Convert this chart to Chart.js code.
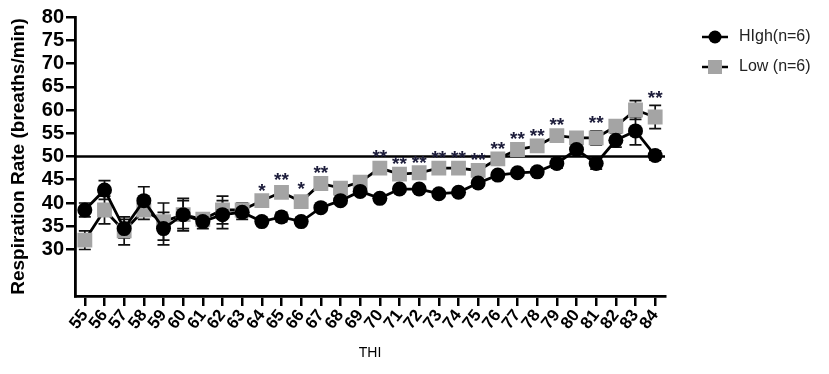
<!DOCTYPE html>
<html><head><meta charset="utf-8">
<script src="https://cdn.jsdelivr.net/npm/chart.js@4/dist/chart.umd.min.js"></script>
<style>html,body{margin:0;padding:0;background:#fff}</style>
</head><body>
<canvas id="c" width="829" height="374"></canvas>
<script>
const thi = ['55','56','57','58','59','60','61','62','63','64','65','66','67','68','69','70','71','72','73','74','75','76','77','78','79','80','81','82','83','84'];
const highMean = [38.5,42.8,34.5,40.5,34.5,37.5,36.0,37.5,38.0,36.0,37.0,36.0,39.0,40.5,42.5,41.0,43.0,43.0,42.0,42.3,44.3,46.0,46.5,46.7,48.5,51.5,48.5,53.5,55.5,50.2];
const highErr  = [1.5,2.0,2.0,3.0,3.5,3.0,1.5,3.0,1.5,0.5,1.0,0.8,0.5,0.5,0.5,0.7,0.5,0.5,0.5,0.5,0.5,0.5,0.5,0.5,1.0,1.0,1.2,1.5,3.0,1.0];
const lowMean  = [32.0,38.5,34.0,38.5,36.0,37.5,36.5,38.5,38.5,40.5,42.3,40.3,44.2,43.2,44.5,47.5,46.2,46.5,47.5,47.5,47.0,49.5,51.5,52.3,54.5,54.0,54.0,56.5,60.0,58.5];
const lowErr   = [2.0,3.0,3.0,2.0,4.0,3.5,1.0,3.0,1.5,0.5,1.0,1.0,0.5,0.5,0.5,0.7,0.5,0.5,0.5,0.5,0.5,0.5,0.5,0.5,0.7,1.0,1.5,1.0,2.0,2.5];
const stars    = ['','','','','','','','','','*','**','*','**','','','**','**','**','**','**','**','**','**','**','**','','**','','','**'];
const yTicks = [30,35,40,45,50,55,60,65,70,75,80];
const refLine = 50;
const seriesNames = ['HIgh(n=6)','Low (n=6)'];
const errs = [highErr, lowErr];

const FONT = '"Liberation Sans", Arial, sans-serif';

const extras = {
  id: 'extras',
  beforeDatasetsDraw(chart) {
    const {ctx, chartArea, scales:{x, y}} = chart;
    ctx.save();
    ctx.strokeStyle = '#000'; ctx.lineWidth = 2.5;
    const yy = y.getPixelForValue(refLine);
    ctx.beginPath(); ctx.moveTo(chartArea.left, yy); ctx.lineTo(chartArea.right, yy); ctx.stroke();
    chart.data.datasets.forEach((ds, di) => {
      ctx.strokeStyle = '#111'; ctx.lineWidth = 1.7;
      ds.data.forEach((v, i) => {
        const e = errs[di][i];
        const px = x.getPixelForValue(i);
        const t = y.getPixelForValue(v + e), b = y.getPixelForValue(v - e);
        ctx.beginPath();
        ctx.moveTo(px, t); ctx.lineTo(px, b);
        ctx.moveTo(px - 6, t); ctx.lineTo(px + 6, t);
        ctx.moveTo(px - 6, b); ctx.lineTo(px + 6, b);
        ctx.stroke();
      });
    });
    ctx.restore();
  },
  afterDatasetsDraw(chart) {
    const {ctx, scales:{x, y}} = chart;
    ctx.save();
    ctx.fillStyle = '#1c1c3a';
    ctx.font = 'bold 19px ' + FONT;
    ctx.textAlign = 'center'; ctx.textBaseline = 'middle';
    stars.forEach((s, i) => {
      if (!s) return;
      const px = x.getPixelForValue(i);
      const py = y.getPixelForValue(lowMean[i] + lowErr[i]) - 7;
      ctx.fillText(s, px, py);
    });
    const items = chart.data.datasets;
    items.forEach((ds, i) => {
      const ly = 37 + i * 30;
      ctx.strokeStyle = '#000'; ctx.lineWidth = 2.5;
      ctx.beginPath(); ctx.moveTo(702, ly); ctx.lineTo(728, ly); ctx.stroke();
      ctx.fillStyle = ds.pointBackgroundColor;
      if (ds.pointStyle === 'circle') {
        ctx.beginPath(); ctx.arc(715, ly, 6.5, 0, Math.PI * 2); ctx.fill();
      } else {
        ctx.fillRect(708, ly - 7, 14, 14);
      }
      ctx.fillStyle = '#222';
      ctx.font = '16px ' + FONT;
      ctx.textAlign = 'left';
      ctx.fillText(ds.label, 739, ly);
    });
    ctx.restore();
  }
};

new Chart(document.getElementById('c'), {
  type: 'line',
  data: {
    labels: thi,
    datasets: [
      { label: seriesNames[0], data: highMean, borderColor: '#000', borderWidth: 2.8,
        pointStyle: 'circle', pointRadius: 7.5, pointBackgroundColor: '#000', pointBorderColor: '#000', pointBorderWidth: 0, tension: 0 },
      { label: seriesNames[1], data: lowMean, borderColor: '#000', borderWidth: 2.8,
        pointStyle: 'rect', pointRadius: 10.5, pointBackgroundColor: '#a4a4a4', pointBorderColor: '#a4a4a4', pointBorderWidth: 0, tension: 0 }
    ]
  },
  options: {
    responsive: false, animation: false,
    layout: { padding: { left: 0, right: 164, top: 17, bottom: 0 } },
    plugins: { legend: { display: false }, tooltip: { enabled: false } },
    scales: {
      x: {
        type: 'category', offset: true,
        grid: { display: true, drawOnChartArea: false, offset: false, drawTicks: true, tickLength: 10, color: '#000', lineWidth: 2.5 },
        border: { display: true, color: '#000', width: 2.8 },
        ticks: { color: '#000', font: { family: FONT, size: 17, weight: 'bold' }, minRotation: 52, maxRotation: 52, autoSkip: false, padding: 0 },
        title: { display: true, text: 'THI', color: '#000', font: { family: FONT, size: 14 }, padding: { top: 0, bottom: 12 } },
        afterFit(s) { s.height = 78; }
      },
      y: {
        min: 20, max: 80,
        afterBuildTicks(s) { s.ticks = yTicks.map(v => ({ value: v })); },
        grid: { display: true, drawOnChartArea: false, drawTicks: true, tickLength: 9, color: '#000', lineWidth: 2.5 },
        border: { display: true, color: '#000', width: 2.8 },
        ticks: { color: '#000', font: { family: FONT, size: 20, weight: 'bold', lineHeight: 1 }, padding: 2, autoSkip: false },
        title: { display: true, text: 'Respiration Rate (breaths/min)', color: '#000', font: { family: FONT, size: 19, weight: 'bold' }, padding: { top: 7, bottom: 0 } },
        afterFit(s) { s.width = 75; }
      }
    }
  },
  plugins: [extras]
});
</script>
</body></html>
